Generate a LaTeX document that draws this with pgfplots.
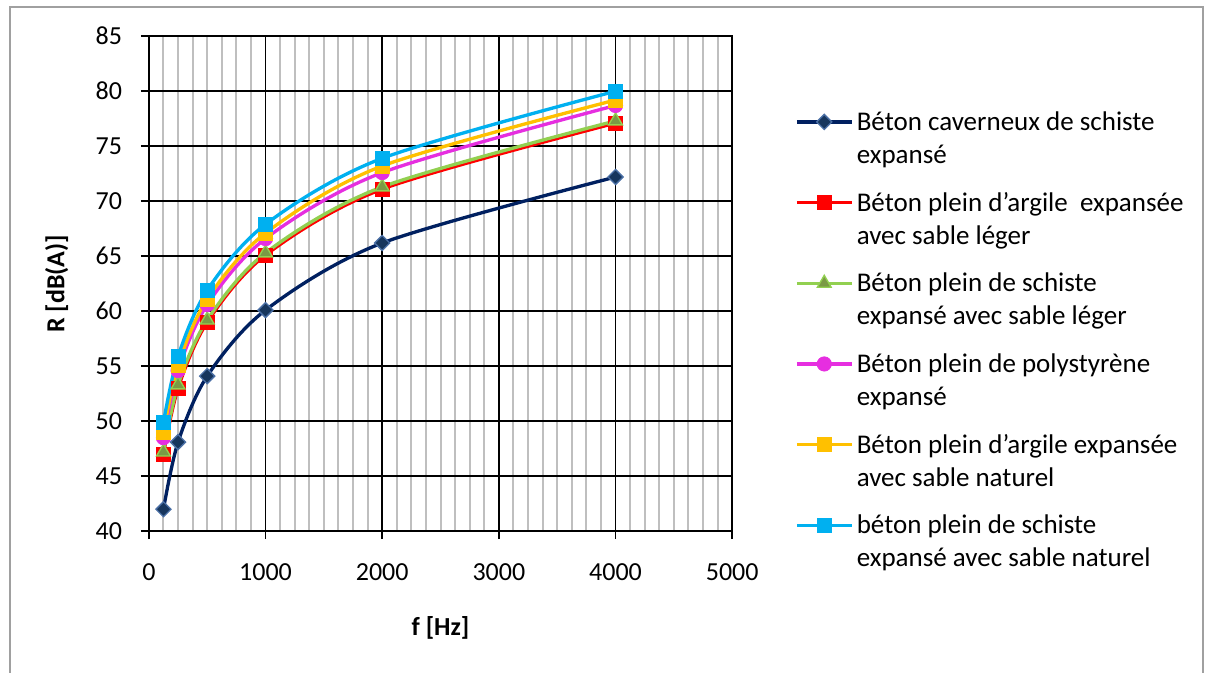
\documentclass[border=0pt]{standalone}
\usepackage{fontspec}
\setmainfont{Carlito}
\usepackage{pgfplots}
\pgfplotsset{compat=1.18}
\definecolor{navyline}{HTML}{002060}
\definecolor{navyfill}{HTML}{17365D}
\definecolor{navyedge}{HTML}{4A6FA5}
\definecolor{redc}{HTML}{FF0000}
\definecolor{greenline}{HTML}{92D050}
\definecolor{greenfill}{HTML}{7A9A45}
\definecolor{magc}{HTML}{E62EE0}
\definecolor{orangec}{HTML}{FFC000}
\definecolor{cyanc}{HTML}{00B0F0}
\definecolor{framegray}{HTML}{A0A0A0}
\definecolor{minorgray}{HTML}{BFBFBF}
\newcommand{\lf}{\fontsize{19.5}{24.75}\selectfont}
\newcommand{\legf}{\fontsize{20.25}{24.75}\selectfont}
\begin{document}
\lf
\begin{tikzpicture}[x=0.75pt,y=0.75pt]
\useasboundingbox (0,0) rectangle (1206,673);
\draw[line width=1.5pt, framegray] (10,-5) -- (10,666) -- (1203,666) -- (1203,-5);
\begin{axis}[
  at={(127.6,128.9)}, anchor=south west,
  scale only axis, width=437.5pt, height=371.25pt,
  xmin=0, xmax=5000, ymin=40, ymax=85,
  xtick={0,1000,2000,3000,4000,5000},
  ytick={40,45,50,55,60,65,70,75,80,85},
  minor x tick num=7,
  xmajorgrids, ymajorgrids, xminorgrids,
  major grid style={black, line width=1.3pt},
  minor grid style={minorgray, line width=1.5pt},
  axis line style={black, line width=1.3pt},
  tick align=outside, major tick length=6pt, minor tick length=0pt,
  every tick/.style={black, line width=1.3pt},
  xtick pos=bottom, ytick pos=left,
  scaled x ticks=false,
  /pgf/number format/1000 sep={},
  /pgf/number format/assume math mode=true,
  ticklabel style={font=\lf, inner sep=0pt},
  yticklabel style={xshift=-14pt},
  xticklabel style={yshift=-18.4pt},
  xlabel={\bfseries f [Hz]},
  ylabel={\bfseries R [dB(A)]},
  every axis x label/.style={at={(axis description cs:0.5,-0.1945)}, anchor=center, font=\lf},
  every axis y label/.style={at={(axis description cs:-0.158,0.5)}, anchor=center, rotate=90, font=\lf},
  legend image code/.code={\draw[mark repeat=2, mark phase=2, #1, yshift=6.3pt] plot coordinates {(0pt,0pt) (20.6pt,0pt) (41.25pt,0pt)};},
  legend style={at={(axis description cs:1.1074,0.857)}, anchor=north west, draw=none, fill=none, inner sep=0pt, row sep=11pt, column sep=2.5pt, nodes={inner sep=0pt, text depth={}, text height={}}, cells={anchor=base west}, font=\legf},
]
\addplot[navyline, line width=2.5pt, smooth, mark=square*, mark size=4pt, mark options={rotate=45, fill=navyfill, draw=navyedge, line width=1pt, solid}]
  coordinates {(125,42.0) (250,48.1) (500,54.1) (1000,60.1) (2000,66.2) (4000,72.2)};
\addlegendentry{\begin{tabular}[t]{@{}l@{}}Béton caverneux de schiste\\expansé\end{tabular}}
\addplot[redc, line width=2.5pt, smooth, mark=square*, mark size=5.4pt, mark options={fill=redc, draw=redc, line width=0.5pt, solid}]
  coordinates {(125,47.0) (250,53.0) (500,59.0) (1000,65.1) (2000,71.1) (4000,77.1)};
\addlegendentry{\begin{tabular}[t]{@{}l@{}}Béton plein d’argile~ expansée\\avec sable léger\end{tabular}}
\addplot[greenline, line width=2.5pt, smooth, mark=triangle*, mark size=6pt, mark options={fill=greenfill, draw=greenline, line width=1pt, solid}]
  coordinates {(125,47.2) (250,53.3) (500,59.2) (1000,65.3) (2000,71.3) (4000,77.3)};
\addlegendentry{\begin{tabular}[t]{@{}l@{}}Béton plein de schiste\\expansé avec sable léger\end{tabular}}
\addplot[magc, line width=2.5pt, smooth, mark=*, mark size=5.4pt, mark options={fill=magc, draw=magc, line width=0.5pt, solid}]
  coordinates {(125,48.5) (250,54.6) (500,60.6) (1000,66.6) (2000,72.6) (4000,78.7)};
\addlegendentry{\begin{tabular}[t]{@{}l@{}}Béton plein de polystyrène\\expansé\end{tabular}}
\addplot[orangec, line width=2.5pt, smooth, mark=square*, mark size=5.4pt, mark options={fill=orangec, draw=orangec, line width=0.5pt, solid}]
  coordinates {(125,49.0) (250,55.1) (500,61.1) (1000,67.1) (2000,73.2) (4000,79.2)};
\addlegendentry{\begin{tabular}[t]{@{}l@{}}Béton plein d’argile expansée\\avec sable naturel\end{tabular}}
\addplot[cyanc, line width=2.5pt, smooth, mark=square*, mark size=5.4pt, mark options={fill=cyanc, draw=cyanc, line width=0.5pt, solid}]
  coordinates {(125,49.9) (250,55.9) (500,61.9) (1000,67.9) (2000,73.9) (4000,80.0)};
\addlegendentry{\begin{tabular}[t]{@{}l@{}}béton plein de schiste\\expansé avec sable naturel\end{tabular}}
\end{axis}
\end{tikzpicture}
\end{document}
